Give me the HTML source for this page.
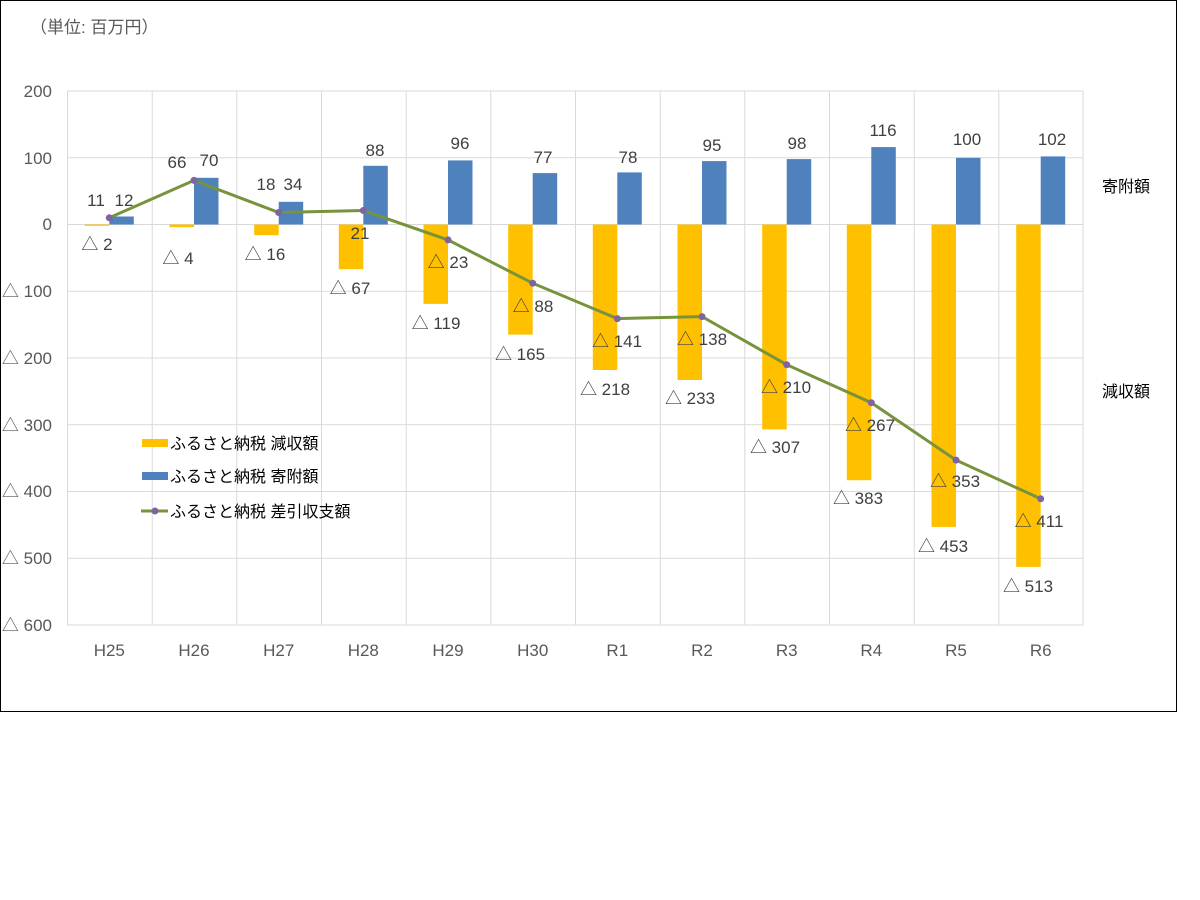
<!DOCTYPE html>
<html><head><meta charset="utf-8"><style>
body{margin:0;background:#fff;}
svg{display:block;font-family:"Liberation Sans","Noto Sans CJK JP",sans-serif;}
.t{font-size:17px;fill:#404040;}
.ax{font-size:17px;fill:#595959;}
.j{font-size:16px;fill:#000;}
</style></head><body>
<svg width="1200" height="900" viewBox="0 0 1200 900">
<rect x="0.5" y="0.5" width="1176" height="711" fill="#fff" stroke="#000" stroke-width="1"/>
<text x="30" y="33" class="ax" font-size="17">（単位: 百万円）</text>
<g stroke="#d9d9d9" stroke-width="1">
<line x1="67" y1="91" x2="1083" y2="91"/><line x1="67" y1="157.75" x2="1083" y2="157.75"/>
<line x1="67" y1="224.5" x2="1083" y2="224.5"/><line x1="67" y1="291.25" x2="1083" y2="291.25"/>
<line x1="67" y1="358" x2="1083" y2="358"/><line x1="67" y1="424.75" x2="1083" y2="424.75"/>
<line x1="67" y1="491.5" x2="1083" y2="491.5"/><line x1="67" y1="558.25" x2="1083" y2="558.25"/>
<line x1="67" y1="625" x2="1083" y2="625"/>
<line x1="67.5" y1="91" x2="67.5" y2="625"/><line x1="152.2" y1="91" x2="152.2" y2="625"/>
<line x1="236.8" y1="91" x2="236.8" y2="625"/><line x1="321.5" y1="91" x2="321.5" y2="625"/>
<line x1="406.2" y1="91" x2="406.2" y2="625"/><line x1="490.8" y1="91" x2="490.8" y2="625"/>
<line x1="575.5" y1="91" x2="575.5" y2="625"/><line x1="660.2" y1="91" x2="660.2" y2="625"/>
<line x1="744.8" y1="91" x2="744.8" y2="625"/><line x1="829.5" y1="91" x2="829.5" y2="625"/>
<line x1="914.2" y1="91" x2="914.2" y2="625"/><line x1="998.8" y1="91" x2="998.8" y2="625"/>
<line x1="1083" y1="91" x2="1083" y2="625"/>
</g>
<g fill="#4f81bd">
<rect x="109.3" y="216.5" width="24.5" height="8"/>
<rect x="194" y="177.8" width="24.5" height="46.7"/>
<rect x="278.7" y="201.8" width="24.5" height="22.7"/>
<rect x="363.3" y="165.8" width="24.5" height="58.7"/>
<rect x="448" y="160.4" width="24.5" height="64.1"/>
<rect x="532.7" y="173.1" width="24.5" height="51.4"/>
<rect x="617.3" y="172.4" width="24.5" height="52.1"/>
<rect x="702" y="161.1" width="24.5" height="63.4"/>
<rect x="786.7" y="159.1" width="24.5" height="65.4"/>
<rect x="871.3" y="147.1" width="24.5" height="77.4"/>
<rect x="956" y="157.8" width="24.5" height="66.7"/>
<rect x="1040.7" y="156.4" width="24.5" height="68.1"/>
</g>
<g fill="#ffc000">
<rect x="84.8" y="224.5" width="24.5" height="1.3"/>
<rect x="169.5" y="224.5" width="24.5" height="2.7"/>
<rect x="254.2" y="224.5" width="24.5" height="10.7"/>
<rect x="338.8" y="224.5" width="24.5" height="44.7"/>
<rect x="423.5" y="224.5" width="24.5" height="79.4"/>
<rect x="508.2" y="224.5" width="24.5" height="110.1"/>
<rect x="592.8" y="224.5" width="24.5" height="145.5"/>
<rect x="677.5" y="224.5" width="24.5" height="155.5"/>
<rect x="762.2" y="224.5" width="24.5" height="204.9"/>
<rect x="846.8" y="224.5" width="24.5" height="255.7"/>
<rect x="931.5" y="224.5" width="24.5" height="302.4"/>
<rect x="1016.2" y="224.5" width="24.5" height="342.4"/>
</g>
<polyline fill="none" stroke="#77933c" stroke-width="3" points="109.3,217.8 194,180.4 278.7,212.5 363.3,210.5 448,239.9 532.7,283.2 617.3,318.6 702,316.6 786.7,364.7 871.3,402.7 956,460.1 1040.7,498.8"/>
<g fill="#8064a2">
<circle cx="109.3" cy="217.8" r="3.5"/><circle cx="194" cy="180.4" r="3.5"/><circle cx="278.7" cy="212.5" r="3.5"/><circle cx="363.3" cy="210.5" r="3.5"/><circle cx="448" cy="239.9" r="3.5"/><circle cx="532.7" cy="283.2" r="3.5"/><circle cx="617.3" cy="318.6" r="3.5"/><circle cx="702" cy="316.6" r="3.5"/><circle cx="786.7" cy="364.7" r="3.5"/><circle cx="871.3" cy="402.7" r="3.5"/><circle cx="956" cy="460.1" r="3.5"/><circle cx="1040.7" cy="498.8" r="3.5"/>
</g>
<g class="ax" text-anchor="end">
<text x="52" y="97">200</text><text x="52" y="164">100</text><text x="52" y="230">0</text>
<text x="52" y="297">△ 100</text><text x="52" y="364">△ 200</text><text x="52" y="431">△ 300</text>
<text x="52" y="497">△ 400</text><text x="52" y="564">△ 500</text><text x="52" y="631">△ 600</text>
</g>
<g class="ax" text-anchor="middle">
<text x="109.3" y="656">H25</text><text x="194" y="656">H26</text><text x="278.7" y="656">H27</text><text x="363.3" y="656">H28</text><text x="448" y="656">H29</text><text x="532.7" y="656">H30</text><text x="617.3" y="656">R1</text><text x="702" y="656">R2</text><text x="786.7" y="656">R3</text><text x="871.3" y="656">R4</text><text x="956" y="656">R5</text><text x="1040.7" y="656">R6</text>
</g>
<g class="t" text-anchor="middle">
<text x="124" y="206">12</text><text x="209" y="166">70</text><text x="293" y="190">34</text><text x="375" y="156">88</text><text x="460" y="149">96</text><text x="543" y="163">77</text><text x="628" y="163">78</text><text x="712" y="151">95</text><text x="797" y="149">98</text><text x="883" y="136">116</text><text x="967" y="145">100</text><text x="1052" y="145">102</text>
<text x="96" y="206">11</text><text x="177" y="168">66</text><text x="266" y="190">18</text><text x="360" y="239">21</text>
<text x="448" y="268">△ 23</text><text x="533" y="312">△ 88</text><text x="617" y="347">△ 141</text><text x="702" y="345">△ 138</text><text x="786" y="393">△ 210</text><text x="870" y="431">△ 267</text><text x="955" y="487">△ 353</text><text x="1039" y="527">△ 411</text>
<text x="97" y="250">△ 2</text><text x="178" y="264">△ 4</text><text x="265" y="260">△ 16</text><text x="350" y="294">△ 67</text><text x="436" y="329">△ 119</text><text x="520" y="360">△ 165</text><text x="605" y="395">△ 218</text><text x="690" y="404">△ 233</text><text x="775" y="453">△ 307</text><text x="858" y="504">△ 383</text><text x="943" y="552">△ 453</text><text x="1028" y="592">△ 513</text>
</g>
<text x="1102" y="192" class="j">寄附額</text>
<text x="1102" y="397" class="j">減収額</text>
<rect x="142" y="439" width="26" height="8" fill="#ffc000"/>
<text x="170" y="449" class="j">ふるさと納税  減収額</text>
<rect x="142" y="472" width="26" height="8" fill="#4f81bd"/>
<text x="170" y="482" class="j">ふるさと納税  寄附額</text>
<line x1="141" y1="511" x2="168" y2="511" stroke="#77933c" stroke-width="3"/>
<circle cx="155" cy="511" r="3.5" fill="#8064a2"/>
<text x="170" y="517" class="j">ふるさと納税  差引収支額</text>
</svg>
</body></html>
